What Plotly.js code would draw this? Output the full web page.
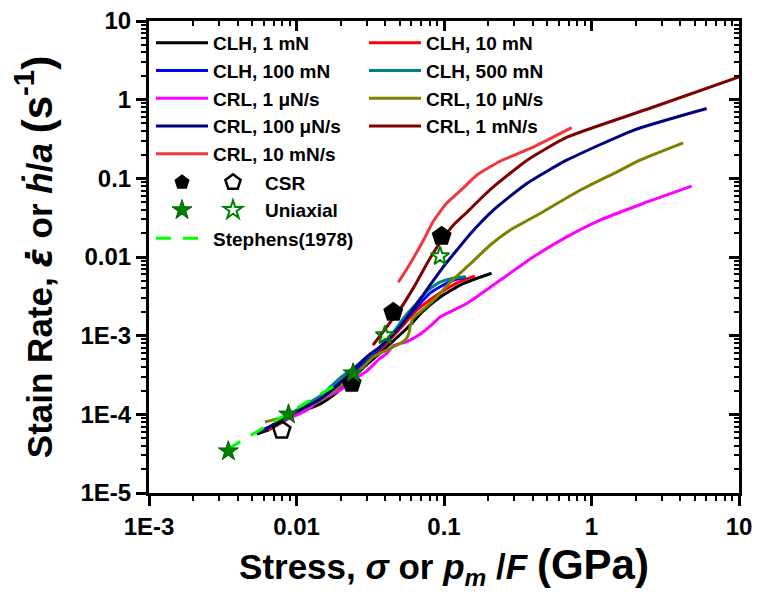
<!DOCTYPE html>
<html><head><meta charset="utf-8">
<script src="https://cdn.plot.ly/plotly-3.0.1.min.js"></script>
<style>html,body{margin:0;padding:0;background:#fff}</style>
</head><body><div id="chart" style="width:757px;height:601px"></div>
<script>
// ---- data ----
const clh1_x = [0.00537, 0.00628, 0.01057, 0.0144, 0.0182, 0.0231, 0.0291, 0.0368, 0.0451, 0.0570, 0.0721, 0.0939, 0.1345, 0.210];
const clh1_y = [5.6e-5, 6.2e-5, 1.07e-4, 1.35e-4, 1.81e-4, 2.72e-4, 4.1e-4, 6.0e-4, 8.5e-4, 1.28e-3, 2.05e-3, 3.08e-3, 4.58e-3, 6.22e-3];
const clh10_x = [0.00641, 0.01057, 0.01443, 0.0197, 0.0269, 0.0368, 0.0465, 0.0544, 0.0653, 0.0892, 0.122, 0.141, 0.162];
const clh10_y = [6.30e-5, 1.10e-4, 1.51e-4, 2.42e-4, 3.98e-4, 6.55e-4, 1.04e-3, 1.44e-3, 2.11e-3, 3.27e-3, 4.65e-3, 5.22e-3, 5.70e-3];
const clh100_x = [0.00548, 0.00773, 0.01057, 0.01443, 0.0197, 0.0269, 0.0368, 0.0465, 0.0544, 0.0653, 0.0804, 0.0984, 0.1188, 0.141];
const clh100_y = [5.94e-5, 7.96e-5, 1.13e-4, 1.61e-4, 2.56e-4, 4.10e-4, 6.94e-4, 1.11e-3, 1.57e-3, 2.30e-3, 3.47e-3, 4.38e-3, 5.15e-3, 5.53e-3];
const clh500_x = [0.00661, 0.01057, 0.01443, 0.0197, 0.0269, 0.0368, 0.0465, 0.0544, 0.0653, 0.0779, 0.0939, 0.115, 0.139];
const clh500_y = [6.88e-5, 1.20e-4, 1.70e-4, 2.88e-4, 4.48e-4, 7.14e-4, 1.17e-3, 1.77e-3, 2.59e-3, 3.79e-3, 4.78e-3, 5.38e-3, 5.62e-3];
const crl1u_x = [0.00809, 0.01172, 0.01443, 0.0197, 0.0241, 0.0299, 0.0368, 0.0409, 0.0453, 0.0558, 0.0687, 0.0846, 0.0939, 0.1426, 0.240, 0.403, 0.679, 1.143, 2.24, 4.77];
const crl1u_y = [8.2e-5, 1.13e-4, 1.51e-4, 2.03e-4, 2.72e-4, 3.54e-4, 5.13e-4, 5.94e-4, 7.46e-4, 8.34e-4, 1.04e-3, 1.43e-3, 1.73e-3, 2.56e-3, 5.07e-3, 0.0100, 0.0180, 0.0294, 0.0479, 0.0794];
const crl10u_x = [0.00611, 0.00773, 0.01057, 0.01443, 0.0197, 0.0283, 0.0332, 0.0504, 0.0552, 0.0579, 0.0588, 0.0619, 0.0725, 0.0891, 0.110, 0.150, 0.205, 0.280, 0.448, 0.836, 1.48, 2.13, 4.19];
const crl10u_y = [8.0e-5, 8.95e-5, 1.13e-4, 1.51e-4, 2.28e-4, 4.02e-4, 5.38e-4, 7.96e-4, 9.0e-4, 1.08e-3, 1.28e-3, 1.67e-3, 2.17e-3, 3.08e-3, 4.78e-3, 8.1e-3, 0.0141, 0.0219, 0.0357, 0.0706, 0.120, 0.170, 0.282];
const crl100u_x = [0.00566, 0.00904, 0.01443, 0.0197, 0.0299, 0.0368, 0.0478, 0.0558, 0.0653, 0.0804, 0.0989, 0.122, 0.150, 0.216, 0.364, 0.679, 1.92, 6.04];
const crl100u_y = [5.94e-5, 9.77e-5, 1.56e-4, 2.49e-4, 5.38e-4, 7.2e-4, 1.17e-3, 1.67e-3, 2.51e-3, 4.38e-3, 7.5e-3, 0.0122, 0.0195, 0.0394, 0.0859, 0.170, 0.408, 0.771];
const crl1m_x = [0.0330, 0.0409, 0.0504, 0.0619, 0.0804, 0.0984, 0.1156, 0.1432, 0.1674, 0.215, 0.366, 0.682, 2.49, 10];
const crl1m_y = [7.6e-4, 1.29e-3, 2.17e-3, 4.02e-3, 9.66e-3, 0.0173, 0.0254, 0.0371, 0.0497, 0.0771, 0.170, 0.333, 0.778, 1.95];
const crl10m_x = [0.0490, 0.0553, 0.0619, 0.0725, 0.0846, 0.104, 0.128, 0.1667, 0.240, 0.403, 0.735];
const crl10m_y = [4.78e-3, 6.79e-3, 9.66e-3, 0.0163, 0.0285, 0.0483, 0.0686, 0.1094, 0.165, 0.250, 0.441];

const csrFilled_x = [0.0237, 0.0453, 0.0964];
const csrFilled_y = [2.49e-4, 1.99e-3, 0.0184];
const csrOpen_x = [0.00794];
const csrOpen_y = [6.3e-5];
const uniFilled_x = [0.00345, 0.00883, 0.0242];
const uniFilled_y = [3.4e-5, 1.0e-4, 3.33e-4];
const uniOpen_x = [0.0398, 0.094];
const uniOpen_y = [1.01e-3, 0.0102];
const stephens_x = [0.0034, 0.0213];
const stephens_y = [3.6e-5, 2.75e-4];

const xTickVals = [0.001, 0.01, 0.1, 1, 10];
const xTickText = ['1E-3', '0.01', '0.1', '1', '10'];
const yTickVals = [1e-5, 1e-4, 1e-3, 0.01, 0.1, 1, 10];
const yTickText = ['1E-5', '1E-4', '1E-3', '0.01', '0.1', '1', '10'];

// ---- helpers ----
function minorTicks(d0, d1) {
  const out = [];
  for (let d = d0; d < d1; d++) for (let k = 2; k <= 9; k++) out.push(k * Math.pow(10, d));
  return out;
}
const minorX = minorTicks(-3, 1);
const minorY = minorTicks(-5, 1);
const FONT = 'Liberation Sans, Arial, Helvetica, sans-serif';

function line(x, y, name, color, legend) {
  return {x, y, name, type: 'scatter', mode: 'lines', legend,
    line: {color, width: 3, shape: 'spline', smoothing: 0.5}, hoverinfo: 'skip'};
}
const traces = [
  line(clh1_x, clh1_y, 'CLH, 1 mN', '#000000', 'legend'),
  line(clh10_x, clh10_y, 'CLH, 10 mN', '#ff0000', 'legend2'),
  line(clh100_x, clh100_y, 'CLH, 100 mN', '#0000ff', 'legend'),
  line(clh500_x, clh500_y, 'CLH, 500 mN', '#008080', 'legend2'),
  line(crl1u_x, crl1u_y, 'CRL, 1 μN/s', '#ff00ff', 'legend'),
  line(crl10u_x, crl10u_y, 'CRL, 10 μN/s', '#808000', 'legend2'),
  line(crl100u_x, crl100u_y, 'CRL, 100 μN/s', '#000080', 'legend'),
  line(crl1m_x, crl1m_y, 'CRL, 1 mN/s', '#800000', 'legend2'),
  line(crl10m_x, crl10m_y, 'CRL, 10 mN/s', '#f0383c', 'legend'),
  {x: stephens_x, y: stephens_y, name: 'Stephens(1978)', type: 'scatter', mode: 'lines', legend: 'legend5',
    xaxis: 'x2', yaxis: 'y2', line: {color: '#00ff00', width: 3, dash: '15px,12px'}, hoverinfo: 'skip'},
  {x: csrFilled_x, y: csrFilled_y, name: '\u00a0', type: 'scatter', mode: 'markers', legend: 'legend3',
    xaxis: 'x2', yaxis: 'y2', marker: {symbol: 'pentagon', size: 21, color: '#000'}, hoverinfo: 'skip'},
  {x: uniFilled_x, y: uniFilled_y, name: '\u00a0', type: 'scatter', mode: 'markers', legend: 'legend3',
    xaxis: 'x2', yaxis: 'y2', marker: {symbol: 'star', size: 15, color: '#008000', line: {color: '#006400', width: 1}}, hoverinfo: 'skip'},
  {x: csrOpen_x, y: csrOpen_y, name: 'CSR', type: 'scatter', mode: 'markers', legend: 'legend4',
    xaxis: 'x2', yaxis: 'y2', marker: {symbol: 'pentagon-open', size: 18, color: '#000', line: {width: 2.5}}, hoverinfo: 'skip'},
  {x: uniOpen_x, y: uniOpen_y, name: 'Uniaxial', type: 'scatter', mode: 'markers', legend: 'legend4',
    xaxis: 'x2', yaxis: 'y2', marker: {symbol: 'star-open', size: 14, color: '#008000', line: {width: 2}}, hoverinfo: 'skip'}
];

const PLOT_L = 149, PLOT_T = 21, PLOT_W = 590, PLOT_H = 472;
const px2x = p => (p - PLOT_L) / PLOT_W;
const px2y = p => (PLOT_T + PLOT_H - p) / PLOT_H;
const legFont = {family: FONT, size: 19, color: '#000', weight: 'bold'};
function leg(xp, yp, extra) {
  return Object.assign({x: px2x(xp), y: px2y(yp), xanchor: 'left', yanchor: 'top',
    bgcolor: 'rgba(0,0,0,0)', borderwidth: 0, font: legFont, tracegroupgap: 0}, extra || {});
}

const axBase = {type: 'log', showgrid: false, zeroline: false, showline: true, linewidth: 3, linecolor: '#000',
  tickcolor: '#000', tickwidth: 3, ticklen: 10, automargin: false};
const BIG = '<span style="font-size:42px">';

const layout = {
  width: 757, height: 601,
  margin: {l: PLOT_L, r: 757 - PLOT_L - PLOT_W, t: PLOT_T, b: 601 - PLOT_T - PLOT_H},
  paper_bgcolor: '#fff', plot_bgcolor: 'rgba(0,0,0,0)',
  font: {family: FONT, color: '#000', weight: 'bold'},
  showlegend: true,
  xaxis: Object.assign({}, axBase, {range: [-3, 1], tickmode: 'array', tickvals: xTickVals, ticktext: xTickText,
    ticks: 'outside', tickfont: {family: FONT, size: 24, weight: 'bold'},
    minor: {tickmode: 'array', tickvals: minorX, ticks: 'outside', ticklen: 5, tickwidth: 2, tickcolor: '#000', showgrid: false},
    title: {text: 'Stress, <i>σ</i> or <i>p</i><sub><i>m</i></sub> /<i>F</i> ' + BIG + '(GPa)</span>', font: {family: FONT, size: 35, weight: 'bold'}, standoff: 16}}),
  yaxis: Object.assign({}, axBase, {range: [-5, 1], tickmode: 'array', tickvals: yTickVals, ticktext: yTickText,
    ticks: 'outside', tickfont: {family: FONT, size: 24, weight: 'bold'},
    minor: {tickmode: 'array', tickvals: minorY, ticks: 'outside', ticklen: 5, tickwidth: 2, tickcolor: '#000', showgrid: false},
    title: {text: 'Stain Rate, <span style="font-family:DejaVu Sans"><i>ε̇</i></span> or <i>ḣ</i>/<i>a</i> ' + BIG + '(s<sup>-1</sup>)</span>', font: {family: FONT, size: 35, weight: 'bold'}, standoff: 18}}),
  xaxis2: Object.assign({}, axBase, {range: [-3, 1], overlaying: 'x', side: 'top', anchor: 'y2', tickmode: 'array',
    tickvals: xTickVals, showticklabels: false, ticks: 'inside',
    minor: {tickmode: 'array', tickvals: minorX, ticks: 'inside', ticklen: 5, tickwidth: 2, tickcolor: '#000', showgrid: false}}),
  yaxis2: Object.assign({}, axBase, {range: [-5, 1], overlaying: 'y', side: 'right', anchor: 'x2', tickmode: 'array',
    tickvals: yTickVals, showticklabels: false, ticks: 'inside',
    minor: {tickmode: 'array', tickvals: minorY, ticks: 'inside', ticklen: 5, tickwidth: 2, tickcolor: '#000', showgrid: false}}),
  legend: leg(151, 24, {itemwidth: 52}),
  legend2: leg(364, 24, {itemwidth: 52}),
  legend3: leg(162, 163.5),
  legend4: leg(201, 163.5, {itemwidth: 54}),
  legend5: leg(151, 219.5, {itemwidth: 52})
};

Plotly.newPlot('chart', traces, layout, {staticPlot: true, displayModeBar: false});
</script></body></html>
